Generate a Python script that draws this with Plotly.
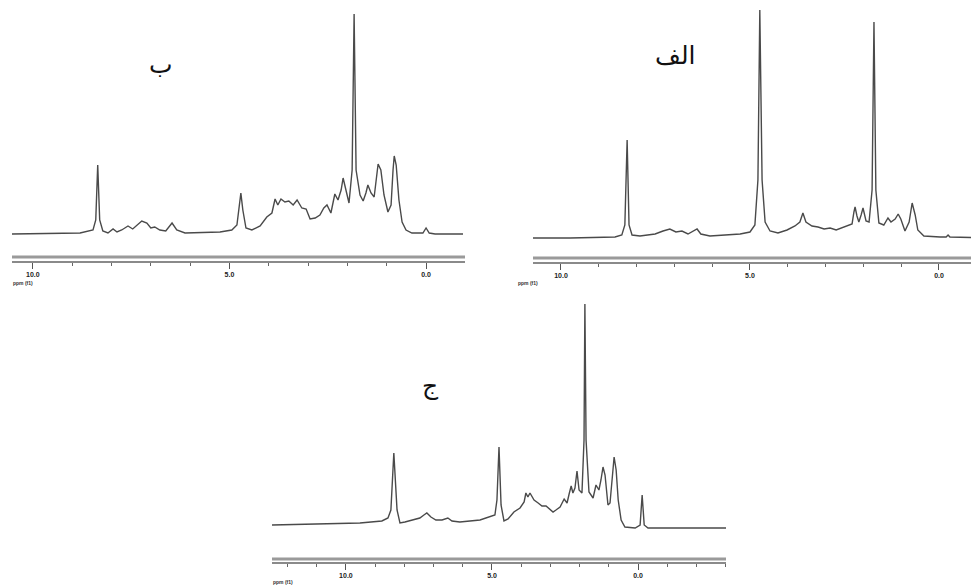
import plotly.graph_objects as go

W, H = 979, 585
OFF = 8  # page body margin offset (px)

# ---- Spectrum ب (top-left): chemical shift (ppm) and intensity ----
ppm_b = [10.53, 8.80, 8.47, 8.40, 8.35, 8.30, 8.22, 8.09, 7.96, 7.86, 7.74, 7.58, 7.46, 7.33, 7.23,
         7.10, 7.00, 6.90, 6.77, 6.62, 6.46, 6.34, 6.13, 5.24, 4.94, 4.81, 4.76, 4.71, 4.66, 4.58,
         4.43, 4.22, 4.05, 3.92, 3.84, 3.77, 3.69, 3.59, 3.49, 3.38, 3.28, 3.16, 3.05, 2.95, 2.82,
         2.70, 2.60, 2.52, 2.42, 2.32, 2.24, 2.16, 2.11, 2.04, 1.96, 1.88, 1.83, 1.78, 1.68, 1.60,
         1.53, 1.48, 1.40, 1.32, 1.27, 1.22, 1.15, 1.07, 0.97, 0.89, 0.84, 0.81, 0.76, 0.69, 0.61,
         0.51, 0.36, 0.08, 0.00, -0.08, -0.23, -0.94]
int_b = [0, 1, 4, 14, 69, 14, 3, 1, 5, 2, 4, 8, 5, 9, 13,
         11, 6, 7, 4, 3, 11, 4, 1, 2, 4, 9, 24, 41, 24, 6,
         4, 8, 17, 21, 35, 29, 35, 32, 33, 29, 34, 26, 25, 15, 16,
         19, 26, 29, 21, 40, 34, 44, 56, 44, 31, 64, 220, 64, 39, 33,
         41, 49, 41, 37, 54, 70, 64, 39, 22, 29, 64, 78, 69, 34, 12,
         4, 1, 1, 6, 1, 0, 0]

# ---- Spectrum الف (top-right) ----
ppm_a = [10.74, 9.76, 8.57, 8.39, 8.31, 8.25, 8.20, 8.12, 7.91, 7.51, 7.30, 7.12, 6.96, 6.80, 6.64,
         6.48, 6.40, 6.30, 6.06, 5.26, 5.00, 4.87, 4.79, 4.74, 4.68, 4.60, 4.47, 4.26, 4.02, 3.81,
         3.68, 3.60, 3.52, 3.36, 3.20, 3.04, 2.88, 2.72, 2.57, 2.41, 2.30, 2.25, 2.22, 2.17, 2.12,
         2.06, 2.01, 1.93, 1.85, 1.77, 1.72, 1.67, 1.59, 1.46, 1.35, 1.27, 1.16, 1.08, 1.01, 0.90,
         0.79, 0.71, 0.63, 0.56, 0.40, -0.03, -0.19, -0.24, -0.29, -1.27]
int_a = [0, 0, 1, 3, 13, 98, 13, 3, 2, 4, 7, 9, 6, 7, 4,
         7, 9, 4, 2, 4, 6, 13, 58, 228, 58, 16, 7, 5, 8, 12,
         16, 25, 16, 12, 11, 9, 10, 8, 10, 12, 14, 26, 31, 22, 16,
         23, 30, 17, 16, 48, 216, 48, 15, 13, 20, 16, 19, 24, 19, 7,
         16, 35, 23, 8, 2, 1, 1, 3, 1, 0]

# ---- Spectrum ج (bottom) ----
ppm_c = [12.53, 10.89, 9.52, 8.77, 8.56, 8.46, 8.36, 8.25, 8.15, 7.98, 7.74, 7.47, 7.33, 7.23, 7.09,
         6.92, 6.71, 6.51, 6.37, 6.10, 5.41, 5.07, 4.90, 4.83, 4.76, 4.69, 4.59, 4.45, 4.25, 4.04,
         3.90, 3.84, 3.77, 3.70, 3.56, 3.42, 3.29, 3.15, 3.01, 2.91, 2.81, 2.67, 2.53, 2.43, 2.36,
         2.29, 2.23, 2.16, 2.09, 2.02, 1.92, 1.85, 1.82, 1.78, 1.68, 1.54, 1.44, 1.34, 1.27, 1.20,
         1.13, 1.03, 0.96, 0.89, 0.82, 0.75, 0.68, 0.58, 0.45, 0.10, -0.07, -0.14, -0.21, -0.34, -3.01]
int_c = [0, 1, 2, 4, 7, 15, 72, 15, 2, 3, 5, 7, 10, 12, 8,
         5, 5, 7, 4, 3, 5, 8, 10, 25, 78, 20, 4, 6, 13, 17,
         23, 32, 28, 32, 25, 22, 19, 19, 16, 13, 15, 18, 26, 22, 31,
         39, 32, 37, 54, 35, 32, 85, 221, 85, 33, 27, 40, 35, 45, 58,
         50, 20, 22, 45, 68, 55, 25, 5, -2, -3, 0, 30, 0, -3, -3]

tick_vals = [10, 5, 0]
tick_text = ["10.0", "5.0", "0.0"]
panel_labels = ["ب", "الف", "ج"]
axis_title = "ppm (f1)"

LINE = "#4a4a4a"


def fx(px):
    return (px - OFF) / W


def fy(py):
    return 1 - (py - OFF) / H


panels = [
    # page-pixel layout: x extent, ppm range, baseline, axis lines, plot vertical extent
    dict(x="x", y="y", px=(12, 465), rng=(10.53, -0.99), base=234, ax=262, ax2=257,
         vtop=8, vbot=250, ppm=ppm_b, inten=int_b, lab=(147, 48), ttl=(11, 283)),
    dict(x="x2", y="y2", px=(533, 987), rng=(10.74, -1.27), base=238, ax=263, ax2=258,
         vtop=8, vbot=250, ppm=ppm_a, inten=int_a, lab=(697, 39), ttl=(516, 283)),
    dict(x="x3", y="y3", px=(272, 726), rng=(12.53, -3.01), base=525, ax=563, ax2=559,
         vtop=290, vbot=550, ppm=ppm_c, inten=int_c, lab=(430, 386), ttl=(271, 582)),
]

fig = go.Figure()
layout = dict(width=W, height=H, margin=dict(l=0, r=0, t=0, b=0),
              paper_bgcolor="white", plot_bgcolor="rgba(0,0,0,0)", showlegend=False)

annotations = []
shapes = []
for i, p in enumerate(panels):
    fig.add_trace(go.Scatter(x=p["ppm"], y=p["inten"], xaxis=p["x"], yaxis=p["y"],
                             mode="lines", line=dict(color=LINE, width=1.4),
                             hoverinfo="skip"))
    suffix = "" if i == 0 else str(i + 1)
    layout["xaxis" + suffix] = dict(
        domain=[max(fx(p["px"][0]), 0), min(fx(p["px"][1]), 1.0)],
        range=list(p["rng"]), anchor="free", position=fy(p["ax"]),
        showgrid=False, zeroline=False, showline=True, linecolor="#8a8a8a", linewidth=1.5,
        ticks="outside", ticklen=6, tickwidth=1.2, tickcolor="#555",
        tickvals=tick_vals, ticktext=tick_text,
        tickfont=dict(size=7, color="#222", family="Liberation Sans", weight="bold"),
        minor=dict(ticks="outside", ticklen=3, tickwidth=1, tickcolor="#666", dtick=1,
                   showgrid=False),
    )
    layout["yaxis" + suffix] = dict(
        domain=[fy(p["vbot"]), min(fy(p["vtop"]), 1.0)],
        range=[p["base"] - p["vbot"], p["base"] - p["vtop"]],
        anchor=p["x"], visible=False, fixedrange=True,
    )
    shapes.append(dict(type="line", xref=p["x"] + " domain", yref="paper",
                       x0=0, x1=1, y0=fy(p["ax2"]), y1=fy(p["ax2"]),
                       line=dict(color="#9a9a9a", width=3)))
    annotations.append(dict(text=panel_labels[i], x=fx(p["lab"][0]), y=fy(p["lab"][1]),
                            xref="paper", yref="paper", showarrow=False,
                            font=dict(size=25, color="#111", family="DejaVu Sans")))
    annotations.append(dict(text=axis_title, x=fx(p["ttl"][0]), y=fy(p["ttl"][1]),
                            xref="paper", yref="paper", xanchor="left", yanchor="middle",
                            showarrow=False,
                            font=dict(size=5, color="#333", family="Liberation Sans",
                                      weight="bold")))

layout["shapes"] = shapes
layout["annotations"] = annotations
fig.update_layout(**layout)
fig.write_html("out.html")
